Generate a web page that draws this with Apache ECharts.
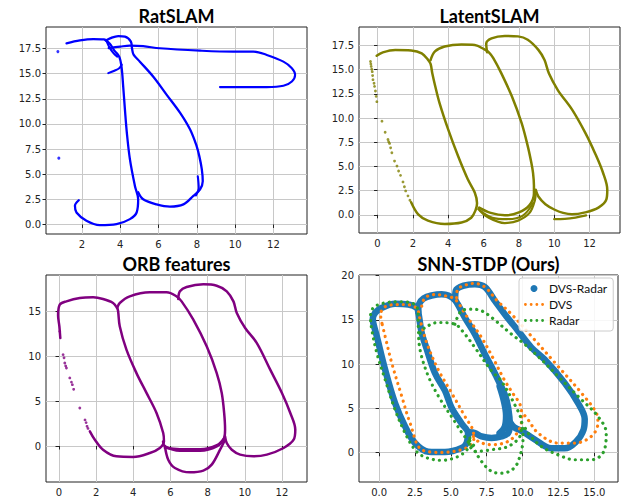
<!DOCTYPE html>
<html><head><meta charset="utf-8">
<script src="https://cdn.jsdelivr.net/npm/echarts@6/dist/echarts.min.js"></script>
<style>html,body{margin:0;padding:0;background:#fff}#c{width:623px;height:502px}</style>
</head><body><div id="c"></div>
<script>
// ---------- titles ----------
const titles = ['RatSLAM', 'LatentSLAM', 'ORB features', 'SNN-STDP (Ours)'];

// ---------- tick values / labels ----------
const p1XTicks = [2, 4, 6, 8, 10, 12];
const p1XLabels = ['2', '4', '6', '8', '10', '12'];
const p1YTicks = [0, 2.5, 5, 7.5, 10, 12.5, 15, 17.5];
const p1YLabels = ['0.0', '2.5', '5.0', '7.5', '10.0', '12.5', '15.0', '17.5'];
const p2XTicks = [0, 2, 4, 6, 8, 10, 12];
const p2XLabels = ['0', '2', '4', '6', '8', '10', '12'];
const p2YTicks = [0, 2.5, 5, 7.5, 10, 12.5, 15, 17.5];
const p2YLabels = ['0.0', '2.5', '5.0', '7.5', '10.0', '12.5', '15.0', '17.5'];
const p3XTicks = [0, 2, 4, 6, 8, 10, 12];
const p3XLabels = ['0', '2', '4', '6', '8', '10', '12'];
const p3YTicks = [0, 5, 10, 15];
const p3YLabels = ['0', '5', '10', '15'];
const p4XTicks = [0, 2.5, 5, 7.5, 10, 12.5, 15];
const p4XLabels = ['0.0', '2.5', '5.0', '7.5', '10.0', '12.5', '15.0'];
const p4YTicks = [0, 5, 10, 15, 20];
const p4YLabels = ['0', '5', '10', '15', '20'];

// ---------- RatSLAM trajectory ----------
const ratLoopLeft = [[1.2,18.03],[1.9,18.32],[2.6,18.45],[3.15,18.42],[3.45,18.0],[3.7,17.3],[3.95,16.7],[4.07,15.7],[4.16,13.7],[4.25,11.4],[4.35,9.1],[4.51,6.47],[4.77,3.83],[4.94,2.5],[4.86,1.19],[4.51,0.53],[3.81,0.03],[2.94,-0.07],[2.24,0.36],[1.72,1.19],[1.64,1.85],[1.84,2.41]];
const ratLoopRight = [[4.94,3.2],[5.2,2.5],[5.9,2.0],[6.6,1.78],[7.3,2.0],[7.82,2.84],[8.17,3.5],[8.31,4.3],[8.26,5.5],[8.13,6.8],[7.99,7.8],[7.65,9.44],[7.13,11.1],[6.43,12.9],[5.73,14.7],[5.03,16.2],[4.7,16.9],[4.62,17.5],[4.56,18.19],[4.25,18.69],[3.9,18.75],[3.47,18.52],[3.25,18.3]];
const ratInner = [[8.05,4.8],[8.1,3.6],[7.95,2.9]];
const ratStrand = [[3.3,18.2],[3.45,17.6],[3.65,17.05],[3.85,16.7]];
const ratHook = [[3.38,15.06],[3.7,15.3],[3.95,15.55],[4.08,15.9]];
const ratLong = [[3.4,17.55],[4.0,17.7],[4.5,17.8],[5.2,17.75],[6.07,17.53],[8.17,17.3],[9.9,17.2],[10.95,17.2],[11.65,16.87],[12.52,16.2],[12.96,15.55],[13.13,14.9],[12.96,14.23],[12.52,13.8],[11.65,13.67],[9.9,13.67],[9.21,13.67]];
const ratDots = [[0.75,17.2],[0.8,6.6]];

// ---------- LatentSLAM trajectory ----------
const latLoop1 = [[-0.05,16.45],[0.3,16.8],[1.0,17.05],[1.9,17.0],[2.5,16.7],[2.85,16.05],[3.0,15.6],[3.1,14.6],[3.25,13.4],[3.5,11.6],[4.0,8.8],[4.55,6.1],[5.1,3.7],[5.5,2.3],[5.63,1.2],[5.55,0.5],[5.3,-0.3],[4.75,-0.8],[3.8,-0.95],[2.85,-0.6],[2.3,0.05],[1.9,1.3]];
const latLoop2 = [[3.0,16.0],[3.25,16.9],[3.8,17.4],[4.75,17.6],[5.5,17.55],[6.05,17.1],[6.3,16.8],[6.55,16.2],[7.0,14.65],[7.6,12.25],[8.15,9.5],[8.5,7.1],[8.7,5.4],[8.8,4.3],[8.85,3.0],[8.85,2.2],[8.6,1.0],[8.0,0.25],[7.2,-0.05],[6.4,0.2],[5.75,0.75]];
const latStrand2 = [[5.7,0.6],[6.2,-0.2],[7.2,-0.85],[7.95,-0.6],[8.6,0.2],[8.9,1.5],[8.95,2.4]];
const latStrand3 = [[5.8,0.45],[6.5,-0.3],[7.3,-0.45],[8.2,-0.1],[8.8,1.2]];
const latLoop3 = [[6.2,16.8],[6.15,17.7],[6.45,18.25],[7.2,18.5],[7.95,18.45],[8.5,18.1],[9.1,17.05],[9.45,16.0],[9.7,14.6],[10.2,12.9],[11.0,10.9],[11.75,8.5],[12.3,6.4],[12.75,4.4],[13.0,2.6],[12.95,1.6],[12.5,0.75],[11.75,0.25],[11.0,0.05],[10.5,0.2],[10.0,0.55],[9.5,1.1],[9.1,1.9],[8.95,2.6]];
const latTail = [[10.0,-0.45],[10.6,-0.42],[11.2,-0.28],[11.8,-0.05]];
const latDots = [[-0.4,15.85],[-0.38,15.6],[-0.36,15.34],[-0.33,15.05],[-0.3,14.8],[-0.28,14.4],[-0.26,13.97],[-0.2,13.6],[-0.17,13.28],[-0.12,12.8],[-0.08,12.25],[-0.04,11.7],[0.25,9.68],[0.43,8.54],[0.59,7.79],[0.63,7.55],[0.68,7.38],[0.74,6.93],[0.81,6.42],[0.96,5.56],[1.1,5.04],[1.19,4.53],[1.3,4.08],[1.44,3.4],[1.52,2.9],[1.59,2.47],[1.72,1.96],[1.83,1.51]];

// ---------- ORB features trajectory ----------
const orbLoop1 = [[0.07,12.0],[0.02,13.3],[-0.05,14.5],[0.04,15.7],[0.4,16.07],[1.12,16.44],[1.84,16.52],[2.37,16.33],[2.91,15.89],[3.13,15.33],[3.18,15.0],[3.27,13.3],[3.63,10.7],[4.17,8.1],[4.71,5.9],[5.25,3.67],[5.61,1.44],[5.65,0.52],[5.43,-0.22],[4.89,-0.78],[3.99,-1.22],[3.09,-1.15],[2.37,-0.41],[1.93,0.7],[1.66,1.63]];
const orbDots = [[0.04,12.74],[0.22,10.15],[0.27,9.8],[0.31,9.22],[0.36,8.9],[0.4,8.67],[0.58,7.56],[0.67,7.1],[0.72,6.81],[0.79,6.3],[1.12,4.22],[1.4,2.9],[1.46,2.6],[1.51,2.19],[1.56,1.95]];
const orbLoop2 = [[3.13,15.33],[3.27,15.89],[3.81,16.63],[4.89,17.07],[5.79,17.07],[6.33,16.63],[6.6,16.07],[7.23,14.04],[7.95,11.07],[8.49,8.11],[8.76,5.89],[8.89,3.67],[8.94,1.81],[8.89,0.89],[8.49,-0.04],[7.59,-0.52],[6.51,-0.52],[5.7,-0.04],[5.6,0.5]];
const orbBand = [[5.7,-0.2],[6.5,-0.35],[7.6,-0.35],[8.5,0.1],[8.9,0.9]];
const orbLower = [[5.7,0.0],[5.88,-1.52],[6.24,-2.44],[7.05,-2.93],[7.77,-2.74],[8.22,-2.07],[8.67,-0.41],[8.94,0.7]];
const orbLoop3 = [[6.42,16.33],[6.51,17.19],[6.87,17.67],[7.77,17.96],[8.49,17.81],[9.03,17.19],[9.39,16.07],[9.57,14.78],[10.02,13.11],[10.65,11.44],[11.37,8.48],[12.0,5.89],[12.45,3.67],[12.72,1.81],[12.63,0.7],[12.09,-0.22],[11.19,-0.96],[10.47,-1.15],[9.75,-0.96],[9.3,-0.41],[9.03,0.33],[8.94,1.07]];

// ---------- SNN-STDP: DVS-Radar ----------
const dvsRadarLoop1 = [[-0.32,14.09],[-0.44,15.1],[-0.28,15.78],[0.19,16.35],[1.11,16.8],[2.04,16.72],[2.62,16.35],[2.75,15.7],[2.97,13.5],[3.3,11.8],[3.89,9.0],[4.59,7.0],[5.06,5.05],[5.75,3.3],[6.2,2.2],[6.1,1.1],[5.75,0.53],[4.59,0.08],[3.43,0.12],[2.5,1.1],[1.81,2.97],[1.11,5.61],[0.42,9.38],[-0.16,13.14],[-0.32,14.09]];
const dvsRadarLoop2 = [[2.73,15.9],[2.8,16.8],[3.1,17.4],[3.66,17.74],[4.36,17.89],[4.82,17.75],[5.3,17.2],[5.98,15.25],[6.68,13.37],[7.37,11.11],[8.1,8.85],[8.76,6.55],[9.0,5.05],[9.11,3.16],[8.99,2.22],[8.53,1.84],[7.84,1.66],[7.14,1.84],[6.68,2.22],[6.3,2.3]];
const dvsRadarInner = [[8.4,7.5],[8.7,5.8],[8.85,4.2],[8.75,2.9],[8.4,2.2]];
const dvsRadarLoop3 = [[5.3,17.3],[5.35,18.3],[5.9,18.85],[6.68,19.02],[7.37,18.7],[8.07,17.14],[8.76,15.63],[9.69,13.75],[10.62,11.86],[11.54,10.51],[12.93,7.88],[13.86,5.61],[14.33,3.8],[14.25,2.6],[13.7,1.2],[12.93,0.5],[12.0,0.5],[10.85,1.5],[10.0,2.4],[9.4,2.9],[9.1,3.5]];

// ---------- SNN-STDP: DVS ----------
const dvsLoop1 = [[0.2,14.6],[0.1,15.6],[0.42,16.46],[1.11,16.7],[1.81,16.72],[2.62,16.3],[2.85,15.03],[3.32,12.39],[4.12,9.38],[5.06,6.74],[5.98,4.1],[6.56,2.4],[6.6,1.5],[6.0,0.5],[4.36,0.04],[2.97,0.34],[2.16,3.35],[1.58,6.37],[0.88,10.14],[0.42,13.14],[0.2,14.6]];
const dvsLoop2 = [[2.97,16.53],[3.2,17.48],[3.9,17.85],[4.6,17.7],[5.3,17.3],[6.1,15.4],[7.14,13.0],[8.0,10.5],[8.7,8.3],[9.4,6.5],[9.81,5.5],[9.95,3.92],[9.69,2.41],[8.99,1.28],[7.84,0.9],[6.91,1.28],[6.5,2.0]];
const dvsLoop3 = [[5.4,17.5],[5.47,18.42],[6.0,18.9],[6.63,19.1],[7.37,18.7],[8.2,17.2],[9.23,15.63],[10.62,13.14],[12.47,9.75],[14.1,6.74],[15.14,4.48],[15.25,3.35],[14.79,1.84],[13.63,1.09],[12.47,1.09],[11.08,2.22],[10.38,3.73],[10.0,4.5]];

// ---------- SNN-STDP: Radar ----------
const radarLoop1 = [[6.33,1.66],[6.21,0.53],[5.51,-0.42],[4.36,-0.85],[3.2,-0.5],[2.5,0.34],[1.81,2.22],[1.11,4.86],[0.42,8.25],[-0.16,11.27],[-0.51,13.9],[-0.6,15.3],[-0.4,16.35],[0.42,16.91],[1.58,17.03],[2.5,16.72],[2.7,16.0],[2.73,14.27],[2.85,11.64],[3.43,8.63],[4.2,6.2],[5.28,3.5],[5.98,1.8],[6.68,0.71]];
const radarLoop2 = [[2.85,13.5],[3.2,14.12],[4.12,14.69],[5.28,14.5],[5.98,13.37],[6.68,11.86],[7.84,9.23],[8.53,8.06],[9.69,4.67],[9.92,3.6],[10.03,1.66],[9.69,-1.0],[9.2,-2.0],[8.5,-2.3],[7.84,-2.11],[7.14,-0.98],[6.45,0.9],[6.21,1.84]];
const radarUnder = [[6.21,1.2],[6.68,0.15],[7.84,0.34],[8.99,0.71],[9.81,1.84],[9.92,3.0]];
const radarLoop3 = [[5.28,14.5],[5.75,16.01],[6.45,16.2],[7.14,16.01],[7.84,15.25],[9.23,13.37],[10.15,12.24],[11.31,10.51],[12.47,8.63],[13.86,6.37],[15.25,4.1],[15.83,2.22],[15.6,-0.04],[14.79,-0.79],[13.63,-0.79],[12.47,-0.23],[11.31,0.71],[10.38,2.22],[10.03,3.35]];

// ---------- layout ----------
const grids = [
  {left: 46, top: 27, width: 261, height: 207},
  {left: 359, top: 27, width: 261, height: 206},
  {left: 46, top: 275, width: 261, height: 207},
  {left: 359, top: 275, width: 259, height: 207}
];
const ranges = [
  {x: [0.13, 13.75], y: [-0.95, 19.65]},
  {x: [-1.05, 13.72], y: [-1.88, 19.42]},
  {x: [-0.7, 13.35], y: [-4.0, 19.0]},
  {x: [-1.4, 16.65], y: [-3.3, 20.05]}
];
const xTicks = [[p1XTicks, p1XLabels], [p2XTicks, p2XLabels], [p3XTicks, p3XLabels], [p4XTicks, p4XLabels]];
const yTicks = [[p1YTicks, p1YLabels], [p2YTicks, p2YLabels], [p3YTicks, p3YLabels], [p4YTicks, p4YLabels]];

const TXT = '#222';
function axis(gi, range, tk) {
  const [vals, labels] = tk;
  return {
    type: 'value', gridIndex: gi, min: range[0], max: range[1],
    axisLine: {show: false},
    axisTick: {show: true, length: 3.5, customValues: vals, lineStyle: {color: TXT, width: 1}},
    axisLabel: {
      customValues: vals, margin: 5, color: TXT, fontFamily: 'DejaVu Sans', fontSize: 10,
      formatter: v => { const i = vals.findIndex(t => Math.abs(t - v) < 1e-6); return i >= 0 ? labels[i] : ''; }
    },
    splitLine: {show: true, lineStyle: {color: '#c8c8c8', width: 1}}
  };
}

function line(gi, data, color, width, name, dotted) {
  const s = {
    type: 'line', xAxisIndex: gi, yAxisIndex: gi, data: data, smooth: 0.35,
    symbol: 'none', showSymbol: false, animation: false, clip: true,
    lineStyle: {color: color, width: width, cap: 'round', join: 'round'},
    itemStyle: {color: color}, emphasis: {disabled: true}
  };
  if (name) s.name = name;
  if (dotted) { s.lineStyle.type = [0.1, 6]; s.lineStyle.cap = 'round'; }
  return s;
}
function dots(gi, data, color, size) {
  return {type: 'scatter', xAxisIndex: gi, yAxisIndex: gi, data: data, symbolSize: size,
    itemStyle: {color: color}, animation: false, emphasis: {disabled: true}};
}

const BLUE = '#0000ff', OLIVE = '#808000', PURPLE = '#800080';
const C1 = '#1f77b4', C2 = '#ff7f0e', C3 = '#2ca02c';
const series = [
  line(0, ratLoopLeft, BLUE, 2.3), line(0, ratLoopRight, BLUE, 2.3), line(0, ratInner, BLUE, 2.1),
  line(0, ratStrand, BLUE, 2.1), line(0, ratHook, BLUE, 2.1), line(0, ratLong, BLUE, 2.1),
  dots(0, ratDots, BLUE, 3),
  line(1, latLoop1, OLIVE, 2.5), line(1, latLoop2, OLIVE, 2.5), line(1, latStrand2, OLIVE, 2.3),
  line(1, latStrand3, OLIVE, 2.1), line(1, latLoop3, OLIVE, 2.5), line(1, latTail, OLIVE, 2.3),
  dots(1, latDots, OLIVE, 2.8),
  line(2, orbLoop1, PURPLE, 2.5), line(2, orbLoop2, PURPLE, 2.5), line(2, orbBand, PURPLE, 2.5),
  line(2, orbLower, PURPLE, 2.5), line(2, orbLoop3, PURPLE, 2.5), dots(2, orbDots, PURPLE, 2.8),
  line(3, dvsRadarLoop1, C1, 6.5, 'DVS-Radar'), line(3, dvsRadarLoop2, C1, 6.5, 'DVS-Radar'),
  line(3, dvsRadarInner, C1, 6.5, 'DVS-Radar'), line(3, dvsRadarLoop3, C1, 6.5, 'DVS-Radar'),
  line(3, dvsLoop1, C2, 3.2, 'DVS', true), line(3, dvsLoop2, C2, 3.2, 'DVS', true), line(3, dvsLoop3, C2, 3.2, 'DVS', true),
  line(3, radarLoop1, C3, 3.2, 'Radar', true), line(3, radarLoop2, C3, 3.2, 'Radar', true),
  line(3, radarUnder, C3, 3.2, 'Radar', true), line(3, radarLoop3, C3, 3.2, 'Radar', true)
];

const titlePos = [[176.5, 15.5], [489.5, 15.5], [176.5, 263.5], [488.5, 263.5]];
const graphics = titles.map((t, i) => ({
  type: 'text', x: titlePos[i][0], y: titlePos[i][1], silent: true,
  style: {text: t, fill: '#000', font: 'bold 18px Lato', align: 'center', verticalAlign: 'middle'}
}));

// dotted-line legend icon (four round dots)
const DOT_ICON = 'path://M0,1.5a1.5,1.5 0 1,0 3,0a1.5,1.5 0 1,0 -3,0z M6,1.5a1.5,1.5 0 1,0 3,0a1.5,1.5 0 1,0 -3,0z M12,1.5a1.5,1.5 0 1,0 3,0a1.5,1.5 0 1,0 -3,0z M18,1.5a1.5,1.5 0 1,0 3,0a1.5,1.5 0 1,0 -3,0z';

const chart = echarts.init(document.getElementById('c'), null, {renderer: 'svg'});
chart.setOption({
  animation: false,
  backgroundColor: '#fff',
  grid: grids.map(g => Object.assign({show: true, borderColor: '#222', borderWidth: 1, backgroundColor: '#fff', containLabel: false}, g)),
  xAxis: ranges.map((r, i) => axis(i, r.x, xTicks[i])),
  yAxis: ranges.map((r, i) => axis(i, r.y, yTicks[i])),
  series: series,
  graphic: graphics,
  legend: {
    data: [{name: 'DVS-Radar', icon: 'circle'}, {name: 'DVS', icon: DOT_ICON}, {name: 'Radar', icon: DOT_ICON}],
    orient: 'vertical', left: 519, top: 278, itemWidth: 20, itemHeight: 7, itemGap: 3,
    padding: [4, 6, 4, 5], backgroundColor: 'rgba(255,255,255,0.85)', borderColor: '#cccccc', borderWidth: 1, borderRadius: 3,
    textStyle: {fontFamily: 'Lato', fontSize: 12, color: '#111', lineHeight: 13}, selectedMode: false
  }
});
</script></body></html>
